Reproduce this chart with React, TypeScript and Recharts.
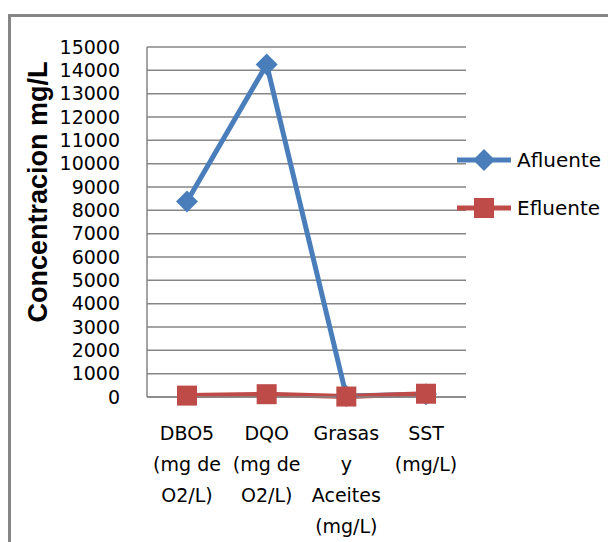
import { LineChart, Line, XAxis, YAxis, CartesianGrid } from "recharts"

const categories = ["DBO5|(mg de|O2/L)", "DQO|(mg de|O2/L)", "Grasas|y|Aceites|(mg/L)", "SST|(mg/L)"]
const afluente = [8380, 14250, 40, 120]
const efluente = [60, 120, 20, 140]
const yTicks = [0, 1000, 2000, 3000, 4000, 5000, 6000, 7000, 8000, 9000, 10000, 11000, 12000, 13000, 14000, 15000]

const BLUE = "#4A7EBB"
const RED = "#BE4B48"
const GRID = "#868686"
const FONT = "'DejaVu Sans', sans-serif"

const data = categories.map((c, i) => ({ name: c, afluente: afluente[i], efluente: efluente[i] }))

function Diamond({ cx, cy }: { cx?: number; cy?: number }) {
  if (cx == null || cy == null) return null
  const r = 11
  return <path d={`M${cx},${cy - r}L${cx + r},${cy}L${cx},${cy + r}L${cx - r},${cy}Z`} fill={BLUE} />
}

function Square({ cx, cy }: { cx?: number; cy?: number }) {
  if (cx == null || cy == null) return null
  return <rect x={cx - 10} y={cy - 10} width={20} height={20} fill={RED} />
}

function XTick({ x, y, payload }: { x?: number; y?: number; payload?: { value: string } }) {
  if (!payload) return null
  const lines = payload.value.split("|")
  return (
    <text x={x} y={(y ?? 0) + 35} textAnchor="middle" fontFamily={FONT} fontSize={19} fill="#000">
      {lines.map((l, i) => (
        <tspan key={i} x={x} dy={i === 0 ? 0 : 31}>
          {l}
        </tspan>
      ))}
    </text>
  )
}

function YTitle({ viewBox }: { viewBox?: { x: number; y: number; width: number; height: number } }) {
  if (!viewBox) return null
  const cx = viewBox.x + 47
  const cy = viewBox.y + viewBox.height / 2 - 30
  return (
    <text
      x={cx}
      y={cy}
      transform={`rotate(-90 ${cx} ${cy})`}
      textAnchor="middle"
      fontFamily="'Liberation Sans', Arial, sans-serif"
      fontSize={27}
      fontWeight="bold"
      fill="#000"
    >
      Concentracion mg/L
    </text>
  )
}

function LegendBox() {
  const items = [
    { label: "Afluente", color: BLUE, shape: "diamond" },
    { label: "Efluente", color: RED, shape: "square" },
  ]
  return (
    <div style={{ position: "absolute", left: 457, top: 136, width: 151, fontFamily: FONT, fontSize: 20 }}>
      {items.map((it) => (
        <div key={it.label} style={{ display: "flex", alignItems: "center", height: 48 }}>
          <svg width={58} height={24} style={{ marginRight: 2 }}>
            <line x1={0} y1={12} x2={54} y2={12} stroke={it.color} strokeWidth={5} />
            {it.shape === "diamond" ? (
              <path d="M27,1L38,12L27,23L16,12Z" fill={it.color} />
            ) : (
              <rect x={17} y={2} width={20} height={20} fill={it.color} />
            )}
          </svg>
          <span>{it.label}</span>
        </div>
      ))}
    </div>
  )
}

export default function App() {
  return (
    <div style={{ position: "absolute", left: 0, top: 0, width: 608, height: 542, background: "#fff", overflow: "hidden" }}>
      <div
        style={{
          position: "absolute",
          left: 8,
          top: 14,
          width: 640,
          height: 560,
          borderLeft: `3px solid ${GRID}`,
          borderTop: `3px solid ${GRID}`,
        }}
      />
      <LineChart width={608} height={542} data={data} margin={{ top: 47, right: 142, bottom: 0, left: 0 }}>
        <CartesianGrid vertical={false} stroke={GRID} strokeWidth={1.5} />
        <XAxis
          dataKey="name"
          tick={<XTick />}
          tickLine={false}
          axisLine={{ stroke: GRID, strokeWidth: 1.5 }}
          interval={0}
          height={145}
          padding={{ left: 40, right: 40 }}
        />
        <YAxis
          width={147}
          domain={[0, 15000]}
          ticks={yTicks}
          interval={0}
          tickLine={false}
          tickSize={0}
          tickMargin={27}
          axisLine={{ stroke: GRID, strokeWidth: 1.5 }}
          tick={{ fontFamily: FONT, fontSize: 19, fill: "#000" }}
          label={<YTitle />}
        />
        <Line
          dataKey="afluente"
          stroke={BLUE}
          strokeWidth={5}
          dot={<Diamond />}
          activeDot={false}
          isAnimationActive={false}
        />
        <Line
          dataKey="efluente"
          stroke={RED}
          strokeWidth={5}
          dot={<Square />}
          activeDot={false}
          isAnimationActive={false}
        />
      </LineChart>
      <LegendBox />
    </div>
  )
}
